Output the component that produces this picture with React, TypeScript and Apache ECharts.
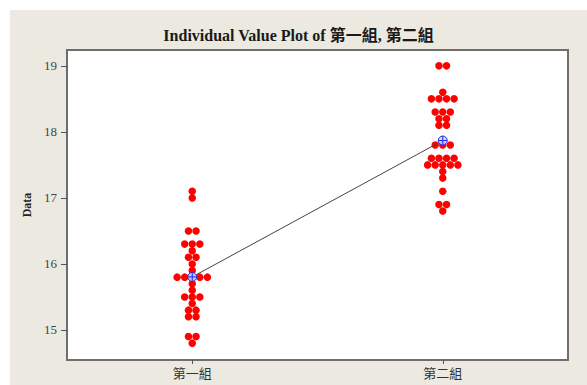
import React, { useEffect, useRef } from "react";
import * as echarts from "echarts";

const categories = ["第一組", "第二組"];
const group1Values = [
  17.1, 17.0, 16.5, 16.5, 16.3, 16.3, 16.3, 16.2, 16.1, 16.1, 16.0, 15.9,
  15.8, 15.8, 15.8, 15.8, 15.8, 15.7, 15.6, 15.5, 15.5, 15.5, 15.4, 15.3,
  15.3, 15.2, 15.2, 14.9, 14.9, 14.8,
];
const group2Values = [
  19.0, 19.0, 18.6, 18.5, 18.5, 18.5, 18.5, 18.3, 18.3, 18.3, 18.2, 18.2,
  18.1, 18.1, 17.8, 17.8, 17.8, 17.6, 17.6, 17.6, 17.6, 17.5, 17.5, 17.5,
  17.5, 17.5, 17.4, 17.3, 17.1, 16.9, 16.9, 16.8,
];
const yTickValues = [15, 16, 17, 18, 19];
const titleText = "Individual Value Plot of 第一組, 第二組";
const yAxisName = "Data";

function dotLayout(values: number[], pos: number, step: number) {
  const counts = new Map<number, number>();
  values.forEach((v) => counts.set(v, (counts.get(v) || 0) + 1));
  const pts: number[][] = [];
  counts.forEach((k, v) => {
    for (let i = 0; i < k; i++) pts.push([pos + (i - (k - 1) / 2) * step, v]);
  });
  return pts;
}

const mean = (a: number[]) => a.reduce((s, v) => s + v, 0) / a.length;

export default function App() {
  const ref = useRef<HTMLDivElement>(null);
  useEffect(() => {
    if (!ref.current) return;
    const chart = echarts.init(ref.current, null, { renderer: "svg" });
    const step = 0.0302;
    const groups = [group1Values, group2Values];
    const dots = groups.flatMap((g, i) => dotLayout(g, i + 1, step));
    const means = groups.map((g, i) => [i + 1, mean(g)]);
    const serif = "'Liberation Serif', 'Noto Sans CJK TC', serif";
    chart.setOption({
      animation: false,
      backgroundColor: "#ECE9E0",
      title: {
        text: titleText,
        left: "center",
        top: 12,
        textStyle: {
          fontFamily: serif,
          fontSize: 16,
          fontWeight: "bold",
          color: "#1a1a1a",
        },
      },
      grid: {
        left: 57,
        top: 40,
        right: 19,
        bottom: 25,
        show: true,
        backgroundColor: "#ffffff",
        borderColor: "#6e6e6e",
        borderWidth: 2,
      },
      xAxis: {
        type: "value",
        min: 0.5,
        max: 2.5,
        splitLine: { show: false },
        axisLine: { show: false },
        axisTick: {
          show: true,
          customValues: [1, 2],
          length: 4,
          lineStyle: { color: "#555" },
        },
        axisLabel: {
          customValues: [1, 2],
          formatter: (v: number) => categories[Math.round(v) - 1],
          margin: 7,
          fontFamily: serif,
          fontSize: 13,
          color: "#333",
        },
      },
      yAxis: {
        type: "value",
        min: 14.545,
        max: 19.24,
        name: yAxisName,
        nameLocation: "middle",
        nameGap: 24,
        nameRotate: 90,
        nameTextStyle: {
          fontFamily: serif,
          fontSize: 12,
          fontWeight: "bold",
          color: "#222",
        },
        splitLine: { show: false },
        axisLine: { show: false },
        axisTick: {
          show: true,
          customValues: yTickValues,
          length: 6,
          lineStyle: { color: "#555" },
        },
        axisLabel: {
          customValues: yTickValues,
          margin: 10,
          fontFamily: serif,
          fontSize: 13,
          color: "#444",
        },
      },
      series: [
        {
          type: "scatter",
          data: dots,
          symbol: "circle",
          symbolSize: 7.5,
          itemStyle: { color: "#ff0000", opacity: 1 },
          z: 2,
        },
        {
          type: "line",
          data: means,
          symbol: "none",
          lineStyle: { color: "#444", width: 1 },
          z: 3,
        },
        {
          type: "scatter",
          data: means,
          symbol:
            "path://M10,1 A9,9 0 1,1 10,19 A9,9 0 1,1 10,1 Z M1,10 L19,10 M10,1 L10,19",
          symbolSize: 9,
          itemStyle: {
            color: "rgba(200,210,255,0.9)",
            borderColor: "#1f2fe6",
            borderWidth: 1,
            opacity: 1,
          },
          z: 4,
        },
      ],
    });
    return () => chart.dispose();
  }, []);
  return (
    <div
      style={{
        position: "fixed",
        left: 0,
        top: 0,
        width: 587,
        height: 385,
        background: "#ffffff",
      }}
    >
      <div
        ref={ref}
        style={{ position: "absolute", left: 10, top: 10, width: 577, height: 375 }}
      />
    </div>
  );
}
